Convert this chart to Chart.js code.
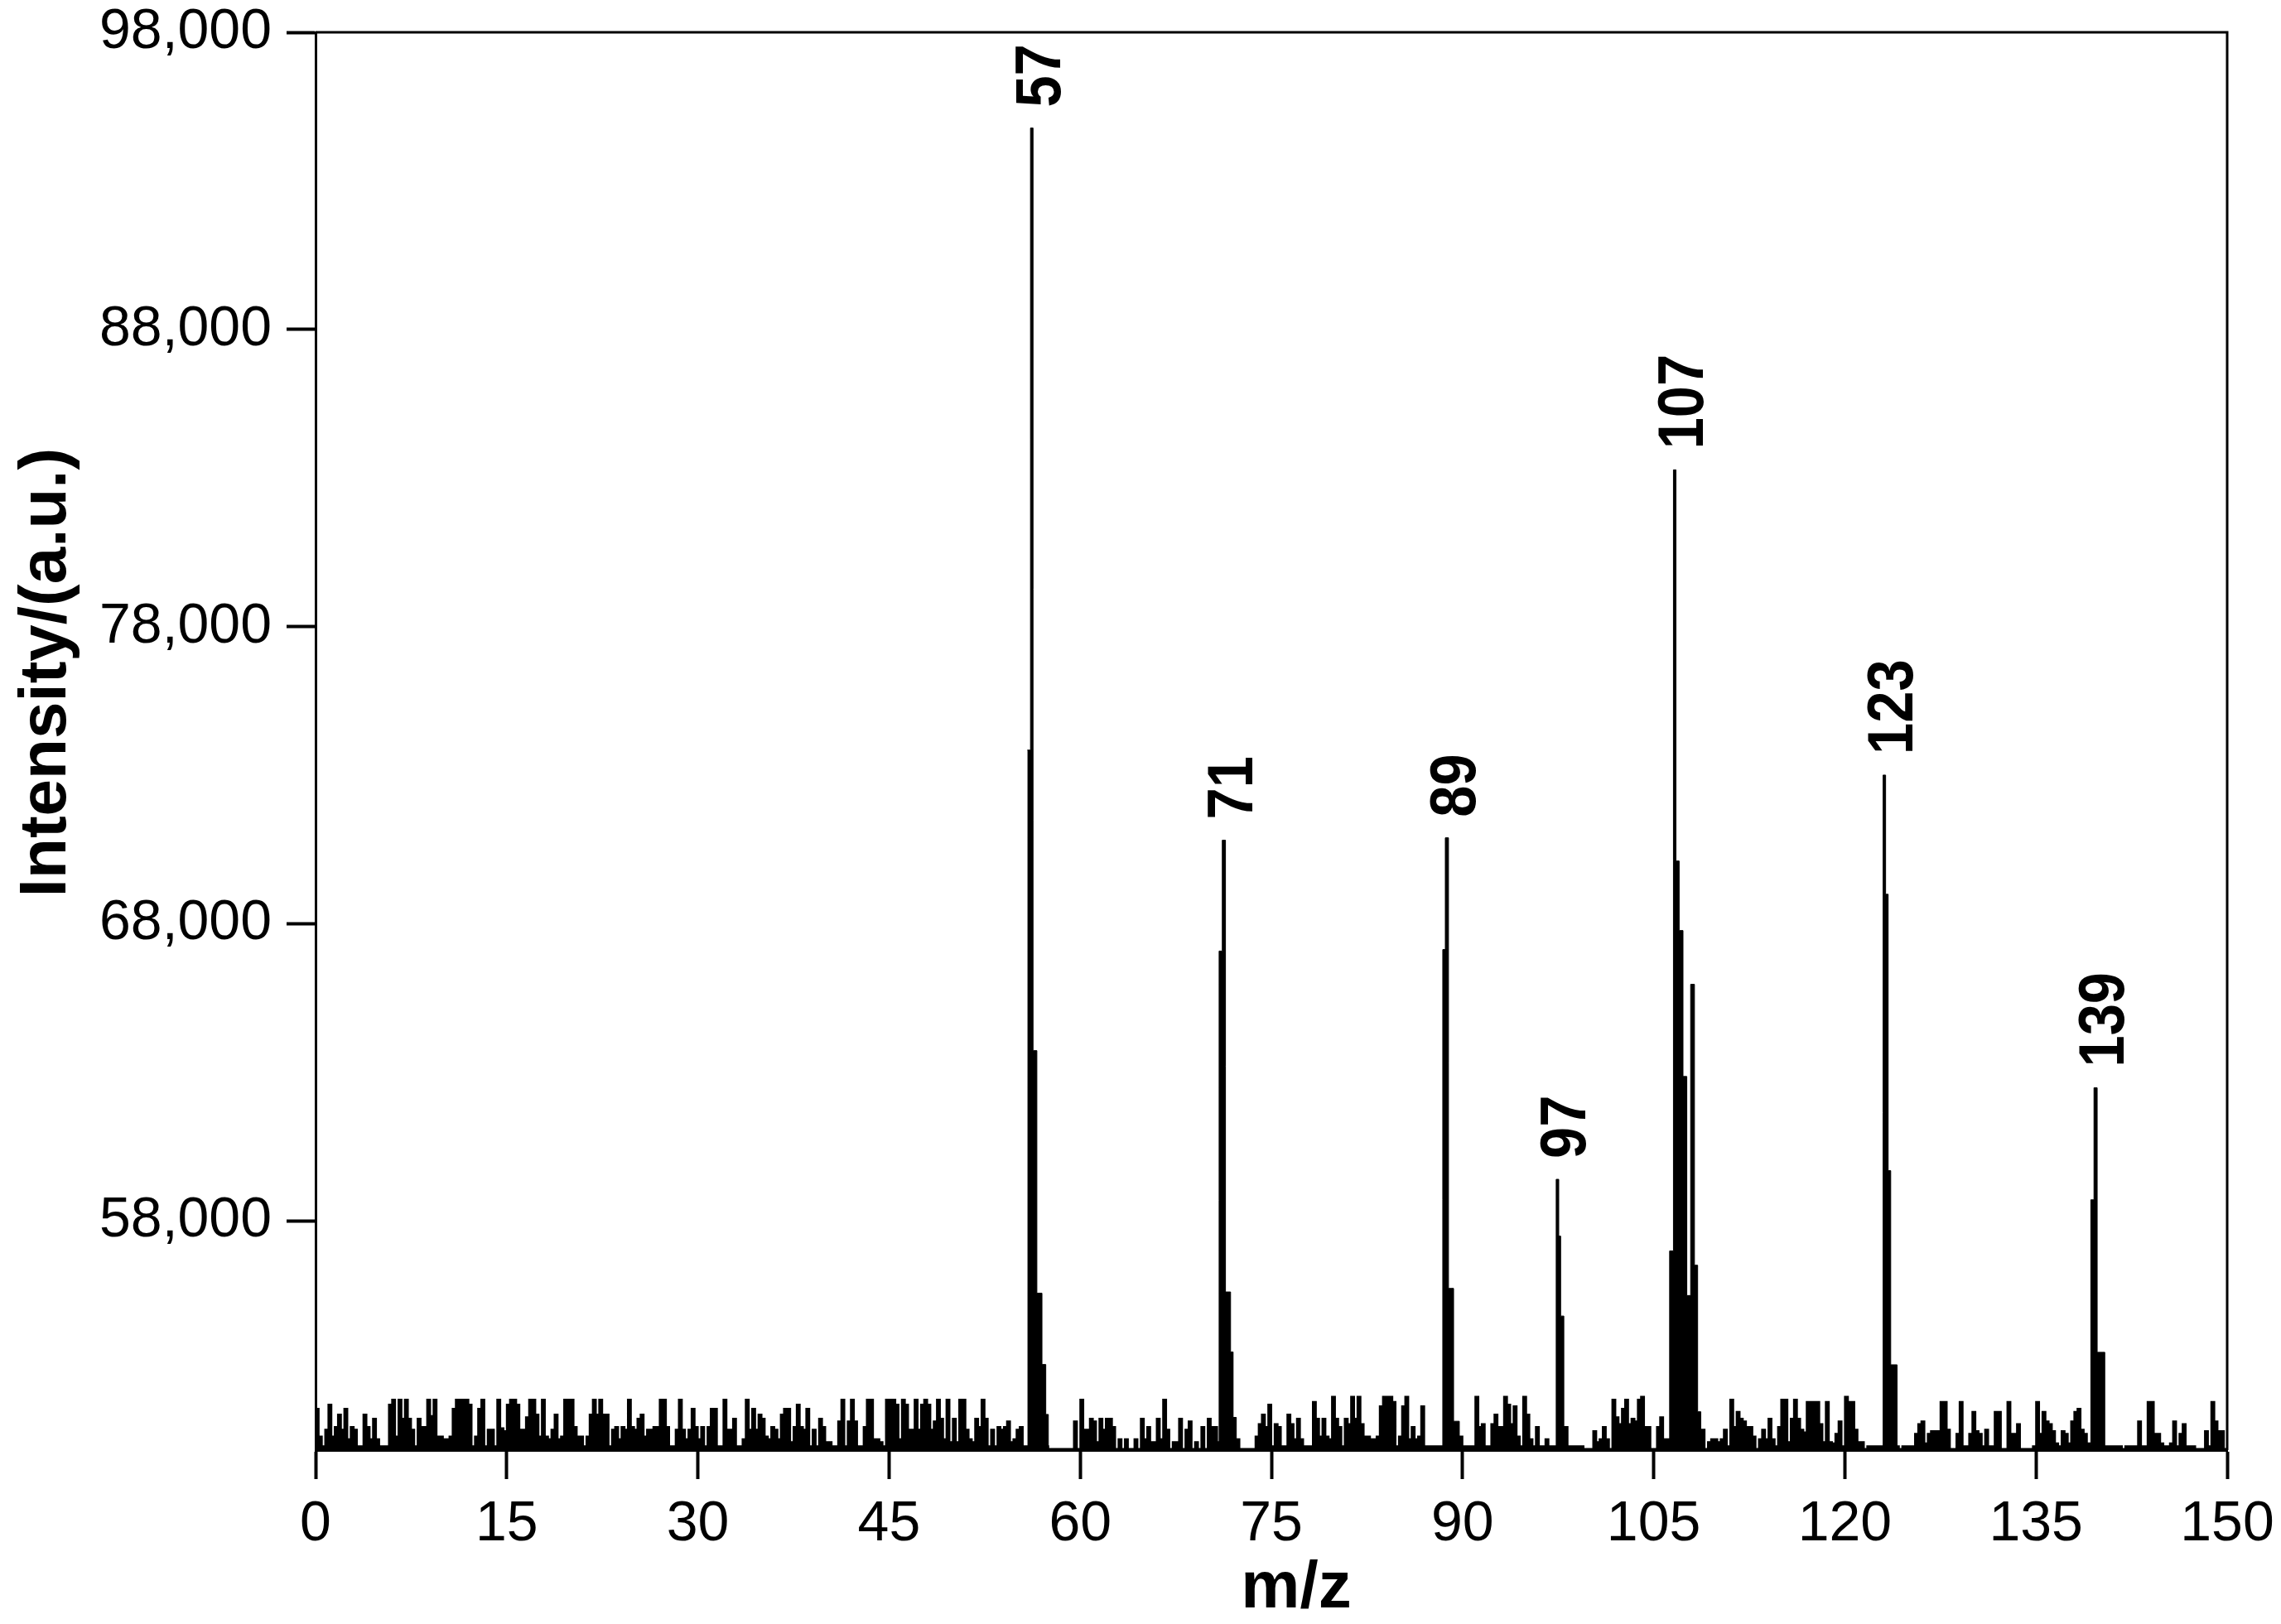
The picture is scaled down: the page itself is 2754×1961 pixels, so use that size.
<!DOCTYPE html>
<html>
<head>
<meta charset="utf-8">
<script src="https://cdn.jsdelivr.net/npm/chart.js@4/dist/chart.umd.min.js"></script>
<style>
  html, body { margin: 0; padding: 0; background: #fff; }
  #wrap { width: 2754px; height: 1961px; position: relative; }
</style>
</head>
<body>
<div id="wrap"><canvas id="spectrum"></canvas></div>
<script>
// axis ticks
var mzTicks = [0, 15, 30, 45, 60, 75, 90, 105, 120, 135, 150];
var intensityTicks = [58000, 68000, 78000, 88000, 98000];

// baseline noise, read on a 0.25 m/z grid, one run per 30 m/z
var noiseStep = 0.25;
var noiseStart = [0, 30, 60, 90, 120];
var noise0 = [
	51690, 50760, 50430, 50990, 51830, 50760, 51080, 51500, 50990, 51690,
	50670, 51080, 50990, 50430, 50430, 51500, 51080, 50670, 51360, 50670,
	50430, 50430, 50430, 51830, 52000, 50760, 52000, 51360, 52000, 51360,
	50990, 50430, 51360, 51080, 51080, 52000, 51450, 52000, 50760, 50760,
	50670, 50670, 50760, 51690, 52000, 52000, 52000, 52000, 51830, 50430,
	50760, 51690, 52000, 50430, 50990, 50990, 50430, 52000, 51040, 50940,
	51830, 52000, 52000, 51830, 50990, 50990, 51410, 52000, 52000, 51500,
	50760, 52000, 50760, 50670, 50990, 51500, 50670, 50760, 52000, 52000,
	52000, 51080, 50760, 50760, 50430, 50760, 51500, 52000, 51500, 52000,
	51500, 51500, 50430, 50990, 51080, 50670, 51080, 50990, 52000, 51080,
	50990, 51360, 51500, 50760, 50990, 50990, 51080, 51080, 52000, 52000,
	51080, 50430, 50430, 50990, 52000, 50990, 50670, 50990, 51690, 51080
];
var noise30 = [
	50670, 51080, 50430, 51080, 51690, 51690, 50430, 50430, 52000, 50990,
	50990, 51360, 50430, 50430, 50670, 52000, 50990, 51690, 50990, 51500,
	51360, 50760, 50670, 51080, 50990, 50670, 51500, 51690, 51690, 50570,
	51080, 51830, 51080, 50990, 51690, 50430, 50990, 50430, 51360, 51080,
	50570, 50570, 50430, 50430, 51270, 52000, 50430, 51270, 52000, 51270,
	50430, 50430, 51080, 52000, 52000, 50670, 50670, 50570, 50430, 52000,
	52000, 52000, 51830, 50670, 52000, 51830, 50990, 50990, 52000, 50990,
	51830, 52000, 51830, 50990, 51270, 52000, 51360, 50670, 52000, 50570,
	51360, 50570, 52000, 52000, 50990, 50670, 50570, 51360, 51080, 52000,
	51360, 50430, 50990, 50430, 51080, 50990, 51080, 51270, 50570, 50670,
	50990, 51080, 50430, 50430, 50430, 50430, 50430, 50430, 50430, 50430,
	50340, 50340, 50340, 50340, 50340, 50340, 50340, 50340, 51270, 50340
];
var noise60 = [
	52000, 50990, 50990, 51360, 51270, 50570, 51360, 50990, 51360, 51360,
	51080, 50340, 50670, 50340, 50670, 50340, 50340, 50670, 50340, 51360,
	50670, 51080, 50570, 50570, 51360, 50670, 52000, 50990, 50340, 50570,
	50570, 51360, 50340, 50990, 51270, 50340, 50570, 50340, 51080, 50340,
	51360, 51080, 51080, 50570, 50430, 50430, 50430, 50430, 50430, 50670,
	50340, 50340, 50340, 50340, 50340, 50760, 51180, 51500, 51080, 51830,
	50430, 51180, 51080, 50430, 50430, 51500, 51180, 50670, 51360, 50670,
	50430, 50430, 50430, 51920, 51360, 50760, 51360, 50760, 50670, 52100,
	51360, 51080, 50430, 51360, 51180, 52100, 51360, 52100, 51180, 50760,
	50760, 50670, 50670, 50760, 51780, 52100, 52100, 52100, 51920, 50430,
	50760, 51780, 52100, 50670, 51080, 50670, 50760, 51780, 50430, 50430,
	50430, 50430, 50430, 50430, 50430, 50430, 50430, 50430, 50430, 50760
];
var noise90 = [
	50430, 50430, 50430, 50430, 52100, 51080, 51180, 50430, 50430, 51180,
	51500, 51080, 51080, 52100, 51830, 51180, 51780, 50760, 50430, 52100,
	51500, 50670, 50430, 51080, 50430, 50430, 50670, 50430, 50430, 50430,
	50430, 50430, 51080, 50430, 50430, 50430, 50430, 50430, 50340, 50340,
	50340, 50940, 50570, 50670, 51080, 50670, 50340, 52000, 51410, 51180,
	51690, 52000, 51180, 51360, 51270, 52000, 52100, 51080, 51080, 50340,
	50340, 51080, 51410, 50670, 50670, 50430, 50430, 50430, 50430, 50430,
	50430, 50430, 50430, 50430, 50430, 50990, 50340, 50570, 50670, 50670,
	50570, 50670, 50990, 50430, 52000, 51080, 51590, 51360, 51270, 51080,
	51080, 50760, 50340, 50670, 50990, 50670, 51360, 50670, 50430, 51080,
	52000, 52000, 50570, 51360, 52000, 51360, 50990, 50900, 51920, 51920,
	51920, 51920, 51180, 50570, 51920, 50570, 50530, 50850, 51270, 50430
];
var noise120 = [
	52100, 51920, 51920, 50990, 50570, 50570, 50340, 50430, 50430, 50430,
	50430, 50430, 50430, 50430, 50430, 50430, 50430, 50340, 50430, 50430,
	50430, 50430, 50850, 51180, 51270, 50530, 50850, 50940, 50940, 50940,
	51920, 51920, 50990, 50340, 50340, 50850, 51920, 50430, 50430, 50850,
	51590, 50940, 50850, 50430, 50990, 50430, 50430, 51590, 51590, 50340,
	50340, 51920, 50850, 50850, 51180, 50340, 50340, 50340, 50340, 50430,
	51920, 50850, 51590, 51270, 51180, 50940, 50530, 50430, 50940, 50850,
	50530, 51270, 51590, 51690, 50990, 50850, 50530, 50430, 50430, 50430,
	50430, 50430, 50430, 50430, 50430, 50430, 50430, 50340, 50430, 50430,
	50430, 50430, 51270, 50430, 50430, 51920, 51920, 50850, 50850, 50530,
	50430, 50430, 50530, 51270, 50430, 50850, 51180, 50430, 50430, 50430,
	50340, 50340, 50340, 50940, 50430, 51920, 51270, 50940, 50940, 50340
];

// peaks as [m/z, intensity] steps, each one ends back on the baseline
var peak57 = [[55.85, 73850], [56.1, 94780], [56.3, 63740], [56.6, 55580], [57.0, 53180], [57.3, 51500], [57.5, 50300]];
var peak71 = [[70.9, 67090], [71.15, 70820], [71.4, 55620], [71.8, 53600], [72.0, 51400], [72.25, 50300]];
var peak89 = [[88.45, 67140], [88.65, 70900], [88.9, 55740], [89.3, 51270], [89.75, 50300]];
var peak97 = [[97.35, 59410], [97.55, 57500], [97.7, 54810], [97.95, 50300]];
var peak107 = [[106.25, 57000], [106.55, 83280], [106.75, 70120], [107.0, 67780], [107.3, 62870], [107.6, 55500], [107.9, 65970], [108.2, 56520], [108.45, 51590], [108.7, 50300]];
var peak123 = [[123.0, 73010], [123.2, 69000], [123.4, 59700], [123.6, 53170], [124.1, 50300]];
var peak139 = [[139.3, 58720], [139.55, 62490], [139.8, 53590], [140.4, 50300]];
var peakLabels = ['57', '71', '89', '97', '107', '123', '139'];

var peaks = [peak57, peak71, peak89, peak97, peak107, peak123, peak139];

var noisePoints = [];
[noise0, noise30, noise60, noise90, noise120].forEach(function(run, k) {
	for (var i = 0; i < run.length; i++) {
		noisePoints.push([noiseStart[k] + i * noiseStep, run[i]]);
	}
});
noisePoints.push([150, noise120[noise120.length - 1]]);
var peakPoints = peaks.flat();

var FONT = '"Liberation Sans", Arial, sans-serif';
Chart.defaults.font.family = FONT;
Chart.defaults.color = '#000';

var decorations = {
	id: 'decorations',
	afterDraw: function(chart) {
		var ctx = chart.ctx, a = chart.chartArea, x = chart.scales.x, y = chart.scales.y;
		ctx.save();
		// top and right side of the frame
		ctx.strokeStyle = '#000';
		ctx.lineWidth = 3;
		ctx.beginPath();
		ctx.moveTo(a.left, a.top);
		ctx.lineTo(a.right, a.top);
		ctx.lineTo(a.right, a.bottom);
		ctx.stroke();

		ctx.fillStyle = '#000';
		// peak labels, rotated, just above each peak top
		ctx.font = 'bold 78px ' + FONT;
		ctx.textAlign = 'left';
		ctx.textBaseline = 'alphabetic';
		peaks.forEach(function(pk, i) {
			var top = 0;
			for (var j = 1; j < pk.length; j++) {
				if (pk[j][1] > pk[top][1]) top = j;
			}
			var mid = (pk[top][0] + pk[top + 1][0]) / 2;
			var px = x.getPixelForValue(mid) + 34;
			var py = y.getPixelForValue(pk[top][1]) - 25;
			ctx.save();
			ctx.translate(px, py);
			ctx.rotate(-Math.PI / 2);
			ctx.scale(0.88, 1);
			ctx.fillText(peakLabels[i], 0, 0);
			ctx.restore();
		});

		// axis titles
		ctx.font = 'bold 80px ' + FONT;
		ctx.textAlign = 'center';
		ctx.fillText('m/z', 1565, 1941);
		ctx.save();
		ctx.translate(79, 812);
		ctx.rotate(-Math.PI / 2);
		ctx.fillText('Intensity/(a.u.)', 0, 0);
		ctx.restore();
		ctx.restore();
	}
};

var ctx = document.getElementById('spectrum').getContext('2d');
var spectrumChart = new Chart(ctx, {
	type: 'line',
	data: {
		datasets: [{
			data: noisePoints,
			stepped: true,
			fill: 'start',
			borderColor: '#000',
			backgroundColor: '#000',
			borderWidth: 2,
			pointRadius: 0
		}, {
			data: peakPoints,
			stepped: true,
			fill: 'start',
			borderColor: '#000',
			backgroundColor: '#000',
			borderWidth: 1,
			pointRadius: 0
		}]
	},
	options: {
		responsive: true,
		maintainAspectRatio: false,
		animation: false,
		layout: { padding: { top: 39, right: 65, left: 0, bottom: 0 } },
		plugins: {
			legend: { display: false },
			tooltip: { enabled: false }
		},
		scales: {
			x: {
				type: 'linear',
				min: 0,
				max: 150,
				afterBuildTicks: function(s) { s.ticks = mzTicks.map(function(v) { return {value: v}; }); },
				afterFit: function(s) {
					s.height = 210;
					s.paddingRight = 0;
					s.paddingLeft = 0;
				},
				grid: { drawOnChartArea: false, drawTicks: true, tickLength: 35, tickWidth: 4, tickColor: '#000' },
				border: { display: true, color: '#000', width: 3 },
				ticks: { color: '#000', font: { size: 68 }, padding: 14, maxRotation: 0, autoSkip: false }
			},
			y: {
				type: 'linear',
				min: 50300,
				max: 98000,
				afterBuildTicks: function(s) { s.ticks = intensityTicks.map(function(v) { return {value: v}; }); },
				afterFit: function(s) { s.width = 381; },
				grid: { drawOnChartArea: false, drawTicks: true, tickLength: 35, tickWidth: 4, tickColor: '#000' },
				border: { display: true, color: '#000', width: 3 },
				ticks: {
					color: '#000',
					font: { size: 68, lineHeight: 0.5 },
					padding: 18,
					autoSkip: false,
					callback: function(v) { return v.toLocaleString('en-US'); }
				}
			}
		}
	},
	plugins: [decorations]
});
</script>
</body>
</html>
